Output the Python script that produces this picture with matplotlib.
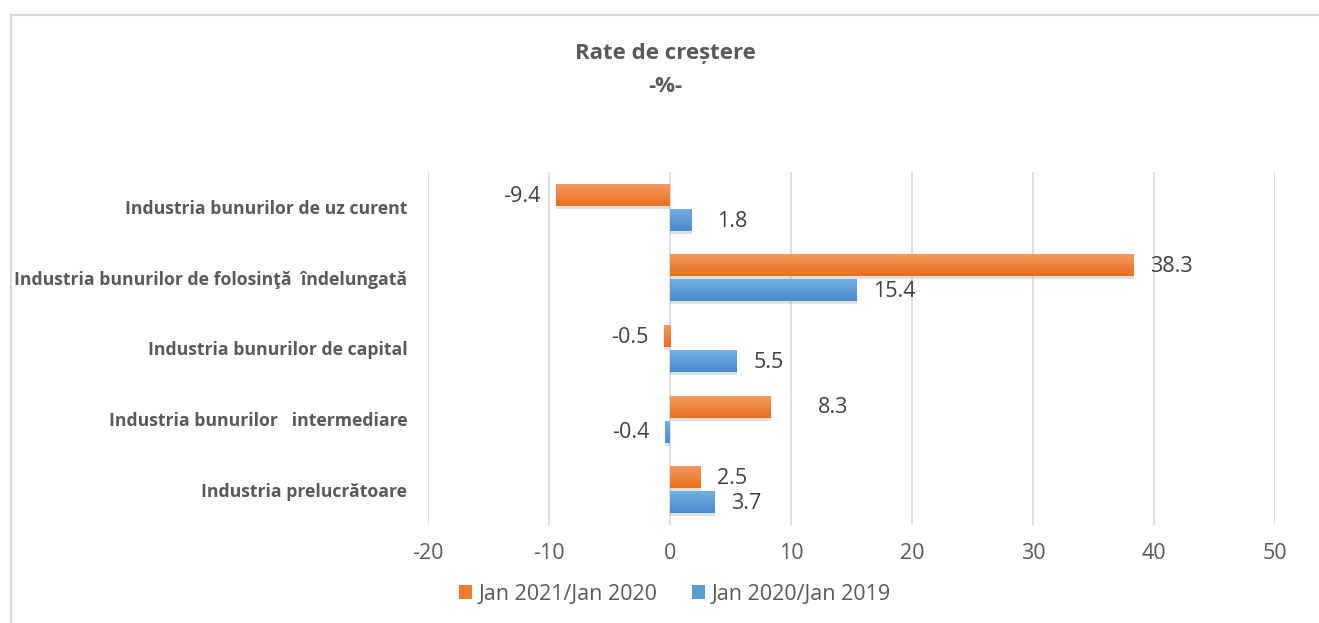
import matplotlib
matplotlib.use("Agg")
import matplotlib.pyplot as plt
import matplotlib.patheffects as pe
from matplotlib.colors import LinearSegmentedColormap
import numpy as np
from matplotlib.lines import Line2D

categories = ["Industria prelucrătoare", "Industria bunurilor   intermediare",
              "Industria bunurilor de capital", "Industria bunurilor de folosinţă  îndelungată",
              "Industria bunurilor de uz curent"]
jan21 = [2.5, 8.3, -0.5, 38.3, -9.4]
jan20 = [3.7, -0.4, 5.5, 15.4, 1.8]
series_names = ["Jan 2021/Jan 2020", "Jan 2020/Jan 2019"]
xticks = [-20, -10, 0, 10, 20, 30, 40, 50]
# extra horizontal nudge (points) of individual value labels, as placed in the original
jan21_label_nudge = [0, 22, 0, 0, 0]
jan20_label_nudge = [0, 0, 0, 0, 6]

plt.rcParams['font.family'] = ['Open Sans', 'DejaVu Sans']
gray = "#595959"
orange = "#ED7D31"
blue = "#5B9BD5"
orange_grad = ["#F39A5E", "#E86F1C"]
blue_grad = ["#72AEE3", "#4A8BCD"]

W, H = 1319, 623
fig = plt.figure(figsize=(W/100, H/100), dpi=100)
ax = fig.add_axes([428/W, 1-525/H, (1275-428)/W, (525-172)/H])

y = np.arange(len(categories))
h = 0.31
off = 0.177
shadow = [pe.SimplePatchShadow(offset=(0.3, -2.2), shadow_rgbFace="#9a9a9a", alpha=0.3), pe.Normal()]
b1 = ax.barh(y + off, jan21, height=h, color=orange, label=series_names[0], zorder=3,
             path_effects=shadow)
b2 = ax.barh(y - off, jan20, height=h, color=blue, label=series_names[1], zorder=3,
             path_effects=shadow)

grad = np.linspace(0, 1, 64).reshape(-1, 1)
for bars, cols in ((b1, orange_grad), (b2, blue_grad)):
    cmap = LinearSegmentedColormap.from_list("g", cols)
    for rect in bars:
        x0, y0 = rect.get_x(), rect.get_y()
        w_, h_ = rect.get_width(), rect.get_height()
        im = ax.imshow(grad, cmap=cmap, aspect="auto", origin="lower",
                       extent=(x0, x0 + w_, y0 + h_, y0), zorder=3.5, interpolation="bilinear")
        im.set_clip_path(rect)

for bars, vals, nud in ((b1, jan21, jan21_label_nudge), (b2, jan20, jan20_label_nudge)):
    for rect, v, n in zip(bars, vals, nud):
        yc = rect.get_y() + rect.get_height()/2
        if v >= 0:
            ax.annotate(f"{v:.1f}", (v, yc), xytext=(12 + n, -1), textcoords="offset points",
                        ha="left", va="center", fontsize=15.5, color="#404040", zorder=5)
        else:
            ax.annotate(f"{v:.1f}", (v, yc), xytext=(-11 - n, -1), textcoords="offset points",
                        ha="right", va="center", fontsize=15.5, color="#404040", zorder=5)

ax.set_xlim(-20, 50)
ax.set_ylim(-0.5, len(categories) - 0.5)
ax.set_xticks(xticks)
ax.set_xticklabels([str(t) for t in xticks], fontsize=15.5, color=gray)
ax.set_yticks(y)
ax.set_yticklabels(categories, fontsize=12.7, fontweight="bold", color=gray)
ax.tick_params(axis="both", length=0)
ax.tick_params(axis="y", pad=15)
ax.tick_params(axis="x", pad=13)
ax.grid(axis="x", color="#d9d9d9", linewidth=1.2, zorder=0)
for s in ax.spines.values():
    s.set_visible(False)

fig.text(665/W, 1-54/H, "Rate de creștere", ha="center", va="center",
         fontsize=16, fontweight="bold", color=gray)
fig.text(665/W, 1-87/H, "-%-", ha="center", va="center",
         fontsize=16, fontweight="bold", color=gray)

leg = fig.legend(handles=[b1, b2], labels=series_names, loc="center",
                 bbox_to_anchor=(675/W, 1-594/H), ncol=2, frameon=False,
                 fontsize=15.5, handlelength=0.6, handleheight=0.6,
                 handletextpad=0.3, columnspacing=1.6)
for t in leg.get_texts():
    t.set_color(gray)
for hnd in leg.legend_handles:
    hnd.set_path_effects([])

fig.add_artist(Line2D([11/W, 11/W], [0, 1-15/H], transform=fig.transFigure,
                      color="#d9d9d9", linewidth=1.5))
fig.add_artist(Line2D([11/W, 1.0], [1-15/H, 1-15/H], transform=fig.transFigure,
                      color="#d9d9d9", linewidth=1.5))

fig.savefig("out.png", dpi=100, facecolor="white")
